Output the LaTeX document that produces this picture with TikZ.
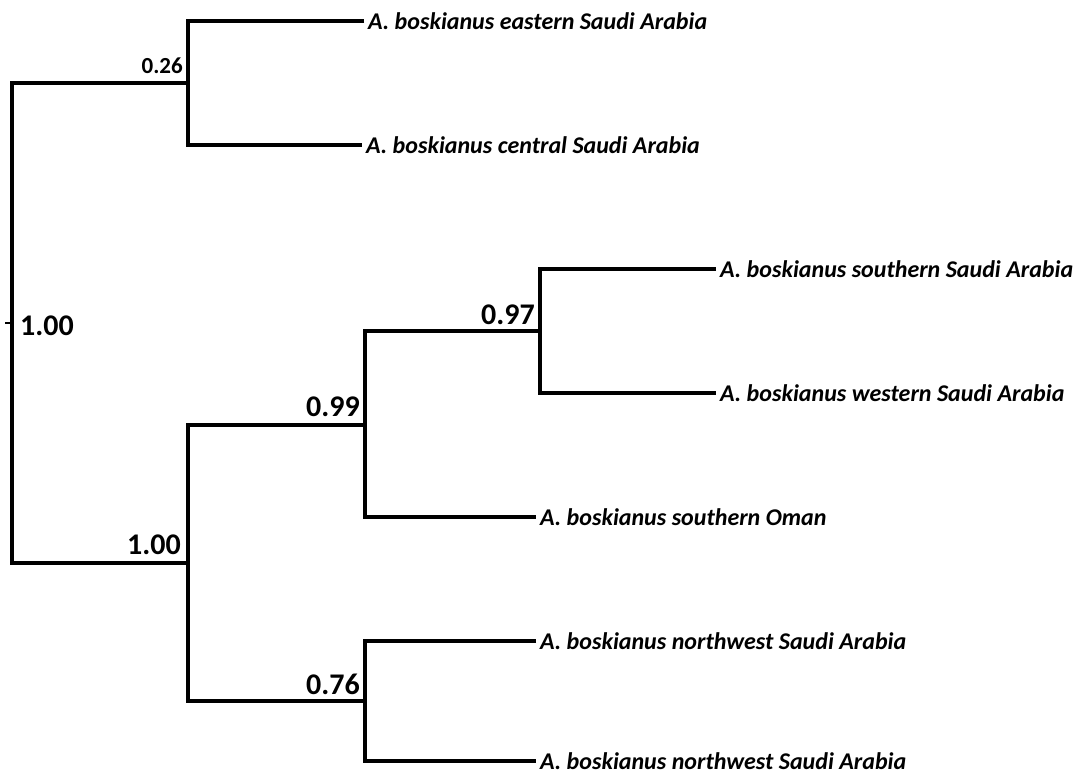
\documentclass[tikz,border=0pt]{standalone}
\usepackage{fontspec}
\setmainfont{Carlito}
\usepackage{tikz}

\tikzset{
  branch/.style={line width=4.5pt, line join=miter},
  leaf/.style={anchor=west, inner xsep=4pt, inner ysep=0pt, font=\bfseries\itshape\fontsize{24}{28}\selectfont},
  support/.style={inner sep=0pt, font=\bfseries\fontsize{30}{34}\selectfont},
  smallsupport/.style={inner sep=0pt, font=\bfseries\fontsize{23}{27}\selectfont}
}

\begin{document}
\begin{tikzpicture}[x=1pt,y=-1pt]
\useasboundingbox (0,0) rectangle (1083,776);

% to place the split points
\coordinate (root) at (12,323);
\coordinate (base) at (5,323);
\coordinate (n1) at (188,83);
\coordinate (n2) at (188,563);
\coordinate (n3) at (365,425);
\coordinate (n4) at (540,331);
\coordinate (n5) at (365,701);

% to write leaf names
\node [leaf] (east) at (364,21) {A. boskianus eastern Saudi Arabia};
\node [leaf] (central) at (362,145) {A. boskianus central Saudi Arabia};
\node [leaf] (south) at (716,269) {A. boskianus southern Saudi Arabia};
\node [leaf] (west) at (716,393) {A. boskianus western Saudi Arabia};
\node [leaf] (oman) at (536,517) {A. boskianus southern Oman};
\node [leaf] (nwa) at (536,641) {A. boskianus northwest Saudi Arabia};
\node [leaf] (nwb) at (536,761) {A. boskianus northwest Saudi Arabia};

% to draw the branches
\draw [branch] (east.west) -| (n1) |- (central.west);
\draw [branch] (south.west) -| (n4) |- (west.west);
\draw [branch] (n4) -| (n3) |- (oman.west);
\draw [branch] (nwa.west) -| (n5) |- (nwb.west);
\draw [branch] (n3) -| (n2) |- (n5);
\draw [branch] (n1) -| (root) |- (n2);
\draw [line width=2.5pt] (base) -- (root);

% to write support values
\node [smallsupport, anchor=base east] (s1) at (183,74) {0.26};
\node [support, anchor=west] (s0) at (20,326) {1.00};
\node [support, anchor=base east] (s2) at (181,554) {1.00};
\node [support, anchor=base east] (s3) at (360,416) {0.99};
\node [support, anchor=base east] (s4) at (535,324) {0.97};
\node [support, anchor=base east] (s5) at (360,694) {0.76};
\end{tikzpicture}
\end{document}
